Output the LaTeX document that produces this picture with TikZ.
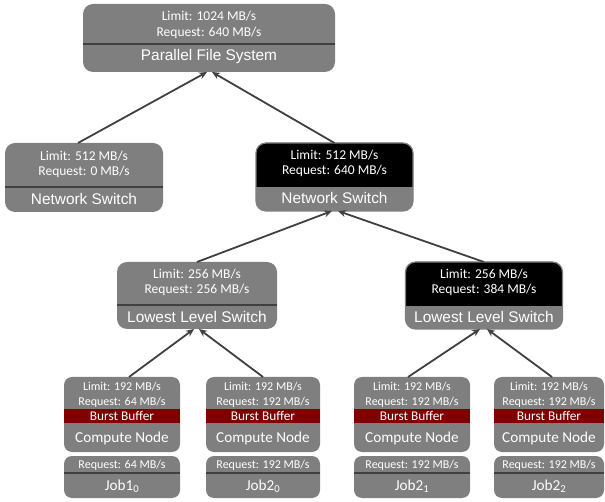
\documentclass[tikz,border=0pt]{standalone}
\usepackage{fontspec}
\setmainfont{Carlito}
\newfontfamily\arialfont{Liberation Sans}
\usetikzlibrary{arrows.meta}
\definecolor{boxgray}{RGB}{127,127,127}
\definecolor{darkline}{RGB}{64,64,64}
\definecolor{bufred}{RGB}{128,0,0}

\begin{document}
\begin{tikzpicture}[x=1pt,y=-1pt,
  panel/.style={fill=boxgray, rounded corners=10pt, inner sep=0pt, outer sep=0pt},
  cpanel/.style={fill=boxgray, rounded corners=8pt, inner sep=0pt, outer sep=0pt},
  divline/.style={draw=darkline, line width=1.2pt},
  rim/.style={draw=boxgray, line width=1.2pt, rounded corners=10pt},
  conn/.style={draw=darkline, line width=1.8pt, -{Stealth[length=8pt,width=7pt]}},
  stat/.style={text=white, align=center, font=\fontsize{13.5}{15.5}\selectfont, inner sep=0pt},
  swlabel/.style={text=white, font=\arialfont\fontsize{15.4}{17}\selectfont, inner sep=0pt},
  cstat/.style={text=white, align=center, font=\fontsize{12}{15}\selectfont, inner sep=0pt},
  bblabel/.style={text=white, font=\fontsize{13.3}{15}\selectfont, inner sep=0pt},
  cnlabel/.style={text=white, font=\fontsize{15.2}{17}\selectfont, inner sep=0pt},
]
\useasboundingbox (0,0) rectangle (605,502);

% ---------- Parallel file system ----------
\node[panel, minimum width=252pt, minimum height=68pt] (pfs) at (209,38) {};
\draw[divline] (pfs.west |- 0,44) -- (pfs.east |- 0,44);
\node[stat] (pfsstat) at (209,25) {Limit: 1024 MB/s\\Request: 640 MB/s};
\node[swlabel] (pfslab) at (209,57) {Parallel File System};

% ---------- Network switches ----------
\node[panel, minimum width=158pt, minimum height=69pt] (ns1) at (84,177.5) {};
\draw[divline] (ns1.west |- 0,187) -- (ns1.east |- 0,187);
\node[stat] (ns1stat) at (84,164.5) {Limit: 512 MB/s\\Request: 0 MB/s};
\node[swlabel] (ns1lab) at (84,199) {Network Switch};

\node[panel, minimum width=157pt, minimum height=68pt] (ns2) at (334.5,177) {};
\begin{scope}
  \clip[rounded corners=10pt] (ns2.north west) rectangle (ns2.south east);
  \fill[black] (240,130) rectangle (430,187);
\end{scope}
\draw[rim] (ns2.north west) rectangle (ns2.south east);
\node[stat] (ns2stat) at (334.5,163.5) {Limit: 512 MB/s\\Request: 640 MB/s};
\node[swlabel] (ns2lab) at (334.5,198) {Network Switch};

% ---------- Lowest level switches ----------
\node[panel, minimum width=160pt, minimum height=67pt] (ls1) at (197,295.5) {};
\draw[divline] (ls1.west |- 0,305) -- (ls1.east |- 0,305);
\node[stat] (ls1stat) at (197,282.5) {Limit: 256 MB/s\\Request: 256 MB/s};
\node[swlabel] (ls1lab) at (197,316.5) {Lowest Level Switch};

\node[panel, minimum width=157pt, minimum height=67pt] (ls2) at (484,295.5) {};
\begin{scope}
  \clip[rounded corners=10pt] (ls2.north west) rectangle (ls2.south east);
  \fill[black] (390,250) rectangle (580,306);
\end{scope}
\draw[rim] (ls2.north west) rectangle (ls2.south east);
\node[stat] (ls2stat) at (484,282.5) {Limit: 256 MB/s\\Request: 384 MB/s};
\node[swlabel] (ls2lab) at (484,316.5) {Lowest Level Switch};

% ---------- Compute nodes with burst buffers ----------
\node[cpanel, minimum width=116pt, minimum height=75pt] (cn1) at (122,414.5) {};
\fill[bufred] (cn1.west |- 0,409) rectangle (cn1.east |- 0,423);
\node[cstat] (cn1stat) at (122,395) {Limit: 192 MB/s\\Request: 64 MB/s};
\node[bblabel] (cn1bb) at (122,416) {Burst Buffer};
\node[cnlabel] (cn1lab) at (122,438) {Compute Node};

\node[cpanel, minimum width=114pt, minimum height=75pt] (cn2) at (263,414.5) {};
\fill[bufred] (cn2.west |- 0,409) rectangle (cn2.east |- 0,423);
\node[cstat] (cn2stat) at (263,395) {Limit: 192 MB/s\\Request: 192 MB/s};
\node[bblabel] (cn2bb) at (263,416) {Burst Buffer};
\node[cnlabel] (cn2lab) at (263,438) {Compute Node};

\node[cpanel, minimum width=116pt, minimum height=75pt] (cn3) at (412,414.5) {};
\fill[bufred] (cn3.west |- 0,409) rectangle (cn3.east |- 0,423);
\node[cstat] (cn3stat) at (412,395) {Limit: 192 MB/s\\Request: 192 MB/s};
\node[bblabel] (cn3bb) at (412,416) {Burst Buffer};
\node[cnlabel] (cn3lab) at (412,438) {Compute Node};

\node[cpanel, minimum width=110pt, minimum height=75pt] (cn4) at (549,414.5) {};
\fill[bufred] (cn4.west |- 0,409) rectangle (cn4.east |- 0,423);
\node[cstat] (cn4stat) at (549,395) {Limit: 192 MB/s\\Request: 192 MB/s};
\node[bblabel] (cn4bb) at (549,416) {Burst Buffer};
\node[cnlabel] (cn4lab) at (549,438) {Compute Node};

% ---------- Jobs ----------
\node[cpanel, minimum width=116pt, minimum height=42pt] (jb1) at (122,477) {};
\draw[divline] (jb1.west |- 0,473) -- (jb1.east |- 0,473);
\node[cstat] (jb1stat) at (122,465) {Request: 64 MB/s};
\node[cnlabel] (jb1lab) at (122,486) {Job1\textsubscript{0}};

\node[cpanel, minimum width=114pt, minimum height=42pt] (jb2) at (263,477) {};
\draw[divline] (jb2.west |- 0,473) -- (jb2.east |- 0,473);
\node[cstat] (jb2stat) at (263,465) {Request: 192 MB/s};
\node[cnlabel] (jb2lab) at (263,486) {Job2\textsubscript{0}};

\node[cpanel, minimum width=116pt, minimum height=42pt] (jb3) at (412,477) {};
\draw[divline] (jb3.west |- 0,473) -- (jb3.east |- 0,473);
\node[cstat] (jb3stat) at (412,465) {Request: 192 MB/s};
\node[cnlabel] (jb3lab) at (412,486) {Job2\textsubscript{1}};

\node[cpanel, minimum width=110pt, minimum height=42pt] (jb4) at (549,477) {};
\draw[divline] (jb4.west |- 0,473) -- (jb4.east |- 0,473);
\node[cstat] (jb4stat) at (549,465) {Request: 192 MB/s};
\node[cnlabel] (jb4lab) at (549,486) {Job2\textsubscript{2}};

% ---------- Connectors ----------
\draw[conn] ([xshift=-6pt]ns1.north) -- ([xshift=-2pt]pfs.south);
\draw[conn] (ns2.north) -- ([xshift=3pt]pfs.south);
\draw[conn] (ls1.north) -- ([xshift=-2.5pt]ns2.south);
\draw[conn] (ls2.north) -- ([xshift=3.5pt]ns2.south);
\draw[conn] ([xshift=7pt]cn1.north) -- ([xshift=-3pt]ls1.south);
\draw[conn] (cn2.north) -- ([xshift=2pt]ls1.south);
\draw[conn] ([xshift=-4pt]cn3.north) -- ([xshift=-4pt]ls2.south);
\draw[conn] ([xshift=3pt]cn4.north) -- ([xshift=3pt]ls2.south);
\end{tikzpicture}
\end{document}
